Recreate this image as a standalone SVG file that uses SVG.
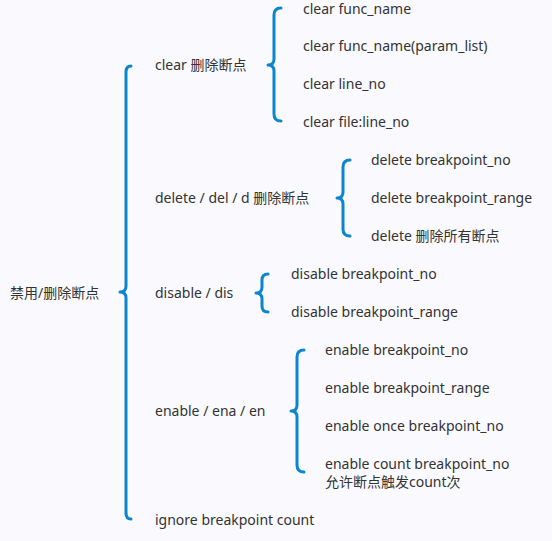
<svg xmlns="http://www.w3.org/2000/svg" width="552" height="541" viewBox="0 0 552 541">
<style>
text{font-family:"Noto Sans","Noto Sans CJK SC",sans-serif;font-size:14px;fill:#333;dominant-baseline:central}
.brace{fill:none;stroke:#0a86d0;stroke-width:3;stroke-linecap:round;stroke-linejoin:round}
</style>
<rect width="552" height="541" fill="#fafafe"/>
<g id="connectors">
<path class="brace" d="M131 66 Q126 66 126 72 L126 286 Q126 292 120 292 Q126 292 126 298 L126 513 Q126 519 131 519"/>
<path class="brace" d="M281 8 Q274 8 274 15 L274 59 Q274 65 268 65 Q274 65 274 71 L274 114 Q274 121 281 121"/>
<path class="brace" d="M350 160 Q343 160 343 167 L343 192 Q343 198 337 198 Q343 198 343 204 L343 229 Q343 236 350 236"/>
<path class="brace" d="M268 274 Q262 274 262 280 L262 287 Q262 293 256 293 Q262 293 262 299 L262 306 Q262 312 268 312"/>
<path class="brace" d="M304 350 Q297 350 297 357 L297 405 Q297 411 291 411 Q297 411 297 417 L297 465 Q297 472 304 472"/>
</g>
<g id="root"><text x="10" y="292">禁用/删除断点</text></g>
<g id="clear"><text x="155" y="64">clear 删除断点</text></g>
<g id="clear-1"><text x="303" y="8.5">clear func_name</text></g>
<g id="clear-2"><text x="303" y="45">clear func_name(param_list)</text></g>
<g id="clear-3"><text x="303" y="83">clear line_no</text></g>
<g id="clear-4"><text x="303" y="121">clear file:line_no</text></g>
<g id="delete"><text x="155" y="197">delete / del / d 删除断点</text></g>
<g id="delete-1"><text x="371" y="159">delete breakpoint_no</text></g>
<g id="delete-2"><text x="371" y="197">delete breakpoint_range</text></g>
<g id="delete-3"><text x="371" y="235">delete 删除所有断点</text></g>
<g id="disable"><text x="155" y="292">disable / dis</text></g>
<g id="disable-1"><text x="291" y="273">disable breakpoint_no</text></g>
<g id="disable-2"><text x="291" y="311">disable breakpoint_range</text></g>
<g id="enable"><text x="155" y="410">enable / ena / en</text></g>
<g id="enable-1"><text x="325" y="349">enable breakpoint_no</text></g>
<g id="enable-2"><text x="325" y="387">enable breakpoint_range</text></g>
<g id="enable-3"><text x="325" y="425">enable once breakpoint_no</text></g>
<g id="enable-4"><text x="325" y="463">enable count breakpoint_no</text><text x="325" y="481">允许断点触发count次</text></g>
<g id="ignore"><text x="155" y="519">ignore breakpoint count</text></g>
</svg>
